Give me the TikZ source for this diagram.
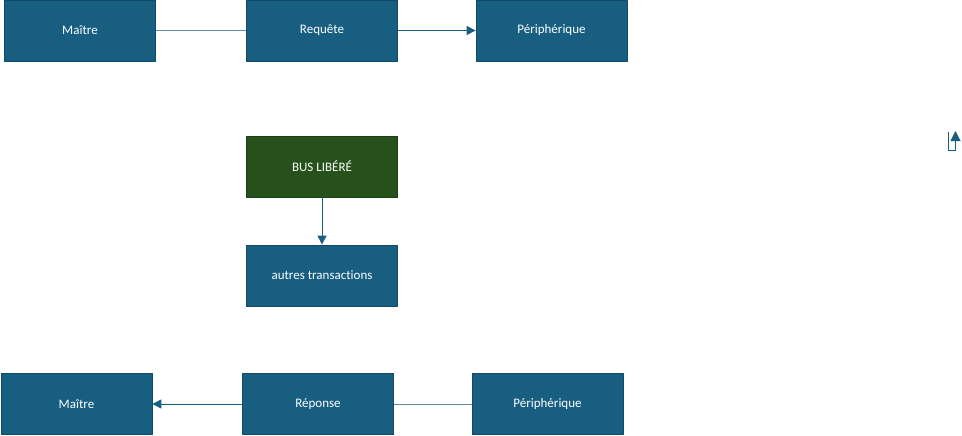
\documentclass[tikz,border=0pt]{standalone}
\usepackage{fontspec}
\setmainfont[Ligatures={NoCommon}]{Carlito}
\usepackage{tikz}
\usetikzlibrary{arrows.meta,positioning,calc}
\definecolor{boxfill}{RGB}{23,94,128}
\definecolor{boxedge}{RGB}{16,74,102}
\definecolor{busfill}{RGB}{39,81,26}
\definecolor{busedge}{RGB}{28,62,18}
\definecolor{linecol}{RGB}{92,140,166}
\tikzset{
  box/.style={rectangle,fill=boxfill,draw=boxedge,line width=0.8pt,
    minimum width=151pt,minimum height=61pt,inner sep=0pt,
    text=white,font=\fontsize{13}{15}\selectfont},
  busbox/.style={box,fill=busfill,draw=busedge},
  link/.style={draw=linecol,line width=1pt},
}
\begin{document}
\begin{tikzpicture}[>={Triangle[length=9pt,width=9pt]},line join=bevel,x=1pt,y=-1pt]
\useasboundingbox (0,0) rectangle (962,436);
% request
\node[box] (maitreA) at (80,30.5) {Maître};
\node[box] (requete) at (322,30.5) {Requête};
\node[box] (periphA) at (551.5,30.5) {Périphérique};
\draw[link] (maitreA) -- (requete);
\draw[link,->,color=boxfill] (requete) -- (periphA);
% bus
\node[busbox] (bus) at (322,166.5) {BUS LIBÉRÉ};
\node[box] (autres) at (322,275.5) {autres transactions};
\draw[link,->,color=boxfill] (bus) -- (autres);
% response
\node[box] (maitreB) at (76.5,404) {Maître};
\node[box] (reponse) at (318,404) {Réponse};
\node[box] (periphB) at (547.5,404) {Périphérique};
\draw[link,->,color=boxfill] (reponse) -- (maitreB);
\draw[link] (periphB) -- (reponse);
% small mark
\coordinate (markA) at (948,132);
\coordinate (markB) at (955.5,131);
\draw[link,->,>={Triangle[length=10pt,width=10pt]},color=boxfill]
  (markA) |- (955.5,150) -- (markB);
\end{tikzpicture}
\end{document}
